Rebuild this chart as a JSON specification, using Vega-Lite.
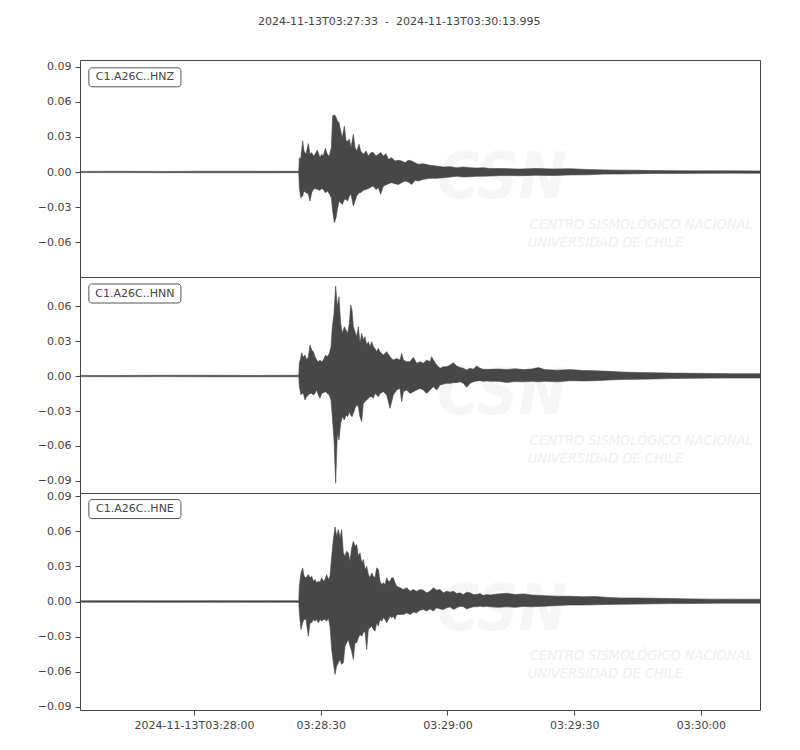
{
  "$schema": "https://vega.github.io/schema/vega-lite/v6.json",
  "background": "white",
  "bounds": "flush",
  "padding": {"left": 36, "top": 15, "right": 40, "bottom": 10},
  "title": {"text": "2024-11-13T03:27:33\u00a0\u00a0-\u00a0\u00a02024-11-13T03:30:13.995", "fontSize": 11, "font": "DejaVu Sans", "fontWeight": "normal", "color": "#444444", "anchor": "middle", "offset": 33},
  "config": {
    "font": "DejaVu Sans",
    "view": {"stroke": "#444444", "strokeWidth": 1},
    "axis": {"labelFont": "DejaVu Sans", "labelFontSize": 11, "labelColor": "#444444", "tickColor": "#444444", "tickSize": 5, "tickWidth": 1, "tickCount": 20, "labelPadding": 4, "labelOverlap": false, "labelBound": false, "grid": false, "domain": false, "title": null},
    "concat": {"spacing": 0}
  },
  "datasets": {
    "hnz": [
      {"t": 0, "hi": 0.0005, "lo": -0.0005}, {"t": 10, "hi": 0.0006, "lo": -0.0005}, {"t": 20, "hi": 0.0005, "lo": -0.0006}, {"t": 30, "hi": 0.0007, "lo": -0.0006}, {"t": 40, "hi": 0.0006, "lo": -0.0007}, {"t": 51.8, "hi": 0.0006, "lo": -0.0006},
      {"t": 51.93, "hi": 0.0123, "lo": -0.0134}, {"t": 52.25, "hi": 0.0109, "lo": -0.022}, {"t": 52.72, "hi": 0.0266, "lo": -0.0206}, {"t": 53.04, "hi": 0.018, "lo": -0.0163}, {"t": 53.51, "hi": 0.0151, "lo": -0.0177}, {"t": 54.06, "hi": 0.0243, "lo": -0.0186}, {"t": 54.46, "hi": 0.0151, "lo": -0.0249}, {"t": 54.85, "hi": 0.0166, "lo": -0.0177}, {"t": 55.25, "hi": 0.0137, "lo": -0.0149}, {"t": 55.64, "hi": 0.0151, "lo": -0.014}, {"t": 56.19, "hi": 0.0186, "lo": -0.0149}, {"t": 56.82, "hi": 0.0123, "lo": -0.0157}, {"t": 57.22, "hi": 0.0151, "lo": -0.014}, {"t": 57.61, "hi": 0.0137, "lo": -0.0149}, {"t": 58.09, "hi": 0.0203, "lo": -0.0177}, {"t": 58.56, "hi": 0.0151, "lo": -0.0163}, {"t": 59.03, "hi": 0.0137, "lo": -0.0186}, {"t": 59.51, "hi": 0.0209, "lo": -0.022},
      {"t": 59.82, "hi": 0.048, "lo": -0.0334}, {"t": 60.22, "hi": 0.0489, "lo": -0.0434}, {"t": 60.61, "hi": 0.0471, "lo": -0.0391}, {"t": 60.93, "hi": 0.0437, "lo": -0.032}, {"t": 61.32, "hi": 0.0423, "lo": -0.0249}, {"t": 61.72, "hi": 0.0351, "lo": -0.0263}, {"t": 62.11, "hi": 0.0294, "lo": -0.0277}, {"t": 62.59, "hi": 0.0394, "lo": -0.0234}, {"t": 62.98, "hi": 0.0266, "lo": -0.0234}, {"t": 63.37, "hi": 0.0266, "lo": -0.0249}, {"t": 63.77, "hi": 0.028, "lo": -0.0206}, {"t": 64.16, "hi": 0.0209, "lo": -0.0191}, {"t": 64.72, "hi": 0.0323, "lo": -0.0291}, {"t": 65.11, "hi": 0.0209, "lo": -0.0249}, {"t": 65.51, "hi": 0.018, "lo": -0.0206}, {"t": 66.06, "hi": 0.0237, "lo": -0.0177}, {"t": 66.45, "hi": 0.018, "lo": -0.0177}, {"t": 67.08, "hi": 0.0151, "lo": -0.0157}, {"t": 67.72, "hi": 0.018, "lo": -0.0149}, {"t": 68.27, "hi": 0.0137, "lo": -0.014}, {"t": 68.9, "hi": 0.0166, "lo": -0.0129}, {"t": 69.45, "hi": 0.0166, "lo": -0.012}, {"t": 70.08, "hi": 0.0137, "lo": -0.0149}, {"t": 70.64, "hi": 0.0151, "lo": -0.0134}, {"t": 71.19, "hi": 0.0166, "lo": -0.0191}, {"t": 71.82, "hi": 0.0137, "lo": -0.012}, {"t": 72.45, "hi": 0.0157, "lo": -0.0111},
      {"t": 73.0, "hi": 0.0109, "lo": -0.01}, {"t": 73.79, "hi": 0.0123, "lo": -0.0091}, {"t": 74.58, "hi": 0.0094, "lo": -0.01}, {"t": 75.37, "hi": 0.01, "lo": -0.0106}, {"t": 76.16, "hi": 0.0094, "lo": -0.0091}, {"t": 76.95, "hi": 0.008, "lo": -0.0077}, {"t": 77.74, "hi": 0.01, "lo": -0.0086}, {"t": 78.53, "hi": 0.0094, "lo": -0.0106}, {"t": 79.32, "hi": 0.008, "lo": -0.0071}, {"t": 80.11, "hi": 0.0066, "lo": -0.0077}, {"t": 81.29, "hi": 0.0071, "lo": -0.0063}, {"t": 82.87, "hi": 0.0057, "lo": -0.0054}, {"t": 84.45, "hi": 0.0051, "lo": -0.0054}, {"t": 86.03, "hi": 0.0043, "lo": -0.0049}, {"t": 87.61, "hi": 0.0046, "lo": -0.0043}, {"t": 89.18, "hi": 0.0037, "lo": -0.0037}, {"t": 90.76, "hi": 0.0043, "lo": -0.0043}, {"t": 92.34, "hi": 0.0037, "lo": -0.004}, {"t": 93.92, "hi": 0.0034, "lo": -0.0037}, {"t": 95.5, "hi": 0.0037, "lo": -0.0037}, {"t": 97.08, "hi": 0.0029, "lo": -0.0034},
      {"t": 100, "hi": 0.003, "lo": -0.003}, {"t": 104, "hi": 0.0025, "lo": -0.0032}, {"t": 108, "hi": 0.003, "lo": -0.0028}, {"t": 112, "hi": 0.0026, "lo": -0.003}, {"t": 116, "hi": 0.0028, "lo": -0.0025}, {"t": 120, "hi": 0.0022, "lo": -0.0024}, {"t": 124, "hi": 0.0018, "lo": -0.0018}, {"t": 128, "hi": 0.0016, "lo": -0.0017}, {"t": 132, "hi": 0.0015, "lo": -0.0015}, {"t": 136, "hi": 0.0012, "lo": -0.0013}, {"t": 142, "hi": 0.0011, "lo": -0.0012}, {"t": 148, "hi": 0.001, "lo": -0.0011}, {"t": 154, "hi": 0.001, "lo": -0.001}, {"t": 161, "hi": 0.0009, "lo": -0.001}
    ],
    "hnn": [
      {"t": 0, "hi": 0.0005, "lo": -0.0005}, {"t": 10, "hi": 0.0005, "lo": -0.0006}, {"t": 20, "hi": 0.0006, "lo": -0.0005}, {"t": 30, "hi": 0.0006, "lo": -0.0006}, {"t": 40, "hi": 0.0005, "lo": -0.0006}, {"t": 51.8, "hi": 0.0006, "lo": -0.0006},
      {"t": 51.93, "hi": 0.0109, "lo": -0.0091}, {"t": 52.32, "hi": 0.0166, "lo": -0.0163}, {"t": 52.48, "hi": 0.02, "lo": -0.0149}, {"t": 52.88, "hi": 0.016, "lo": -0.0149}, {"t": 53.27, "hi": 0.018, "lo": -0.0206}, {"t": 53.67, "hi": 0.0137, "lo": -0.0177}, {"t": 54.06, "hi": 0.0166, "lo": -0.0163}, {"t": 54.46, "hi": 0.0266, "lo": -0.0149}, {"t": 54.85, "hi": 0.0223, "lo": -0.0149}, {"t": 55.25, "hi": 0.0209, "lo": -0.0163}, {"t": 55.64, "hi": 0.0166, "lo": -0.0149}, {"t": 56.03, "hi": 0.0137, "lo": -0.012}, {"t": 56.43, "hi": 0.0123, "lo": -0.0163}, {"t": 56.82, "hi": 0.0137, "lo": -0.0191}, {"t": 57.22, "hi": 0.0123, "lo": -0.0149}, {"t": 57.61, "hi": 0.0137, "lo": -0.0143}, {"t": 58.17, "hi": 0.018, "lo": -0.0134}, {"t": 58.56, "hi": 0.0166, "lo": -0.0149}, {"t": 59.03, "hi": 0.0194, "lo": -0.0163}, {"t": 59.43, "hi": 0.0251, "lo": -0.0206},
      {"t": 59.74, "hi": 0.0423, "lo": -0.0349}, {"t": 60.14, "hi": 0.0537, "lo": -0.0549}, {"t": 60.53, "hi": 0.0771, "lo": -0.0917}, {"t": 60.93, "hi": 0.0594, "lo": -0.0491}, {"t": 61.32, "hi": 0.068, "lo": -0.0549}, {"t": 61.72, "hi": 0.0451, "lo": -0.0406}, {"t": 62.11, "hi": 0.0366, "lo": -0.0349}, {"t": 62.59, "hi": 0.0423, "lo": -0.0377}, {"t": 62.98, "hi": 0.0394, "lo": -0.0334}, {"t": 63.37, "hi": 0.0366, "lo": -0.0349}, {"t": 63.77, "hi": 0.0451, "lo": -0.0306}, {"t": 64.08, "hi": 0.0609, "lo": -0.0334}, {"t": 64.4, "hi": 0.0566, "lo": -0.0349}, {"t": 64.72, "hi": 0.0423, "lo": -0.032}, {"t": 65.11, "hi": 0.038, "lo": -0.0277}, {"t": 65.51, "hi": 0.0337, "lo": -0.0249}, {"t": 65.9, "hi": 0.0423, "lo": -0.0263}, {"t": 66.29, "hi": 0.028, "lo": -0.0349}, {"t": 66.69, "hi": 0.0366, "lo": -0.0391}, {"t": 67.08, "hi": 0.0309, "lo": -0.0234}, {"t": 67.48, "hi": 0.0337, "lo": -0.022}, {"t": 67.87, "hi": 0.0266, "lo": -0.0206}, {"t": 68.27, "hi": 0.0294, "lo": -0.0191}, {"t": 68.66, "hi": 0.0251, "lo": -0.0177}, {"t": 69.06, "hi": 0.0294, "lo": -0.0177}, {"t": 69.45, "hi": 0.0251, "lo": -0.0191}, {"t": 69.85, "hi": 0.0237, "lo": -0.0149}, {"t": 70.24, "hi": 0.0209, "lo": -0.0163}, {"t": 70.64, "hi": 0.0237, "lo": -0.0177}, {"t": 71.03, "hi": 0.0209, "lo": -0.0149}, {"t": 71.82, "hi": 0.018, "lo": -0.0134}, {"t": 72.61, "hi": 0.0209, "lo": -0.0163}, {"t": 73.4, "hi": 0.0166, "lo": -0.0277}, {"t": 74.19, "hi": 0.0137, "lo": -0.0163}, {"t": 74.98, "hi": 0.0151, "lo": -0.012}, {"t": 75.77, "hi": 0.0137, "lo": -0.0106}, {"t": 76.16, "hi": 0.0194, "lo": -0.022}, {"t": 76.56, "hi": 0.0137, "lo": -0.0134}, {"t": 77.34, "hi": 0.0123, "lo": -0.012}, {"t": 78.13, "hi": 0.0123, "lo": -0.0149}, {"t": 78.92, "hi": 0.016, "lo": -0.0134}, {"t": 79.71, "hi": 0.0109, "lo": -0.012}, {"t": 80.5, "hi": 0.0123, "lo": -0.0106}, {"t": 81.29, "hi": 0.0109, "lo": -0.012}, {"t": 82.08, "hi": 0.0137, "lo": -0.0149}, {"t": 82.87, "hi": 0.0123, "lo": -0.012}, {"t": 83.26, "hi": 0.0166, "lo": -0.0106}, {"t": 83.66, "hi": 0.0137, "lo": -0.0091}, {"t": 84.45, "hi": 0.0094, "lo": -0.012}, {"t": 85.24, "hi": 0.0066, "lo": -0.0077}, {"t": 86.03, "hi": 0.008, "lo": -0.0069}, {"t": 86.82, "hi": 0.008, "lo": -0.0063}, {"t": 87.61, "hi": 0.0094, "lo": -0.0063}, {"t": 88.39, "hi": 0.0114, "lo": -0.0057}, {"t": 89.18, "hi": 0.0086, "lo": -0.0057}, {"t": 89.97, "hi": 0.0074, "lo": -0.0049}, {"t": 90.76, "hi": 0.0066, "lo": -0.0063}, {"t": 91.55, "hi": 0.0051, "lo": -0.0097}, {"t": 92.34, "hi": 0.0066, "lo": -0.0063}, {"t": 93.13, "hi": 0.0057, "lo": -0.0049}, {"t": 93.92, "hi": 0.0086, "lo": -0.0043}, {"t": 94.71, "hi": 0.0066, "lo": -0.004}, {"t": 95.5, "hi": 0.0057, "lo": -0.0045}, {"t": 96.29, "hi": 0.0057, "lo": -0.0042}, {"t": 97.08, "hi": 0.0057, "lo": -0.0045},
      {"t": 99, "hi": 0.006, "lo": -0.0045}, {"t": 101, "hi": 0.0055, "lo": -0.0055}, {"t": 103, "hi": 0.0062, "lo": -0.0048}, {"t": 105, "hi": 0.0055, "lo": -0.005}, {"t": 107, "hi": 0.006, "lo": -0.0045}, {"t": 108.5, "hi": 0.0072, "lo": -0.005}, {"t": 110, "hi": 0.0055, "lo": -0.0045}, {"t": 113, "hi": 0.005, "lo": -0.005}, {"t": 116, "hi": 0.0055, "lo": -0.004}, {"t": 119, "hi": 0.0048, "lo": -0.0042}, {"t": 122, "hi": 0.0045, "lo": -0.004}, {"t": 125, "hi": 0.004, "lo": -0.0035}, {"t": 128, "hi": 0.0035, "lo": -0.003}, {"t": 132, "hi": 0.003, "lo": -0.0028}, {"t": 136, "hi": 0.0028, "lo": -0.0025}, {"t": 140, "hi": 0.0025, "lo": -0.0022}, {"t": 145, "hi": 0.0023, "lo": -0.002}, {"t": 150, "hi": 0.0022, "lo": -0.0018}, {"t": 155, "hi": 0.002, "lo": -0.0017}, {"t": 161, "hi": 0.002, "lo": -0.0017}
    ],
    "hne": [
      {"t": 0, "hi": 0.0006, "lo": -0.0006}, {"t": 10, "hi": 0.0007, "lo": -0.0006}, {"t": 20, "hi": 0.0006, "lo": -0.0007}, {"t": 30, "hi": 0.0007, "lo": -0.0007}, {"t": 40, "hi": 0.0006, "lo": -0.0006}, {"t": 51.8, "hi": 0.0007, "lo": -0.0007},
      {"t": 51.93, "hi": 0.0131, "lo": -0.0097}, {"t": 52.32, "hi": 0.0244, "lo": -0.0239}, {"t": 52.72, "hi": 0.0287, "lo": -0.0182}, {"t": 53.04, "hi": 0.0216, "lo": -0.0153}, {"t": 53.51, "hi": 0.0202, "lo": -0.0153}, {"t": 54.06, "hi": 0.023, "lo": -0.0296}, {"t": 54.46, "hi": 0.0202, "lo": -0.0182}, {"t": 54.85, "hi": 0.0216, "lo": -0.0182}, {"t": 55.25, "hi": 0.0173, "lo": -0.0153}, {"t": 55.64, "hi": 0.0188, "lo": -0.0168}, {"t": 56.03, "hi": 0.0159, "lo": -0.0153}, {"t": 56.43, "hi": 0.0173, "lo": -0.0182}, {"t": 56.82, "hi": 0.0165, "lo": -0.0153}, {"t": 57.22, "hi": 0.0202, "lo": -0.0168}, {"t": 57.61, "hi": 0.0173, "lo": -0.0153}, {"t": 58.01, "hi": 0.0188, "lo": -0.0153}, {"t": 58.4, "hi": 0.023, "lo": -0.0168}, {"t": 58.8, "hi": 0.0188, "lo": -0.0139}, {"t": 59.19, "hi": 0.0216, "lo": -0.021},
      {"t": 59.59, "hi": 0.0386, "lo": -0.0409}, {"t": 59.98, "hi": 0.0529, "lo": -0.0523}, {"t": 60.38, "hi": 0.0637, "lo": -0.0622}, {"t": 60.77, "hi": 0.0557, "lo": -0.0551}, {"t": 61.16, "hi": 0.0614, "lo": -0.0523}, {"t": 61.56, "hi": 0.0543, "lo": -0.0494}, {"t": 61.95, "hi": 0.0614, "lo": -0.0537}, {"t": 62.35, "hi": 0.0415, "lo": -0.0523}, {"t": 62.74, "hi": 0.0386, "lo": -0.0381}, {"t": 63.14, "hi": 0.0429, "lo": -0.0352}, {"t": 63.53, "hi": 0.0415, "lo": -0.0324}, {"t": 63.93, "hi": 0.0344, "lo": -0.0381}, {"t": 64.32, "hi": 0.0458, "lo": -0.0423}, {"t": 64.72, "hi": 0.0514, "lo": -0.0494}, {"t": 65.11, "hi": 0.0472, "lo": -0.0352}, {"t": 65.51, "hi": 0.0486, "lo": -0.0352}, {"t": 65.9, "hi": 0.0386, "lo": -0.031}, {"t": 66.29, "hi": 0.0415, "lo": -0.0281}, {"t": 66.69, "hi": 0.033, "lo": -0.0296}, {"t": 67.08, "hi": 0.0358, "lo": -0.0267}, {"t": 67.48, "hi": 0.0273, "lo": -0.0253}, {"t": 67.87, "hi": 0.0301, "lo": -0.0409}, {"t": 68.27, "hi": 0.023, "lo": -0.0239}, {"t": 68.66, "hi": 0.0202, "lo": -0.0224}, {"t": 69.06, "hi": 0.0244, "lo": -0.021}, {"t": 69.45, "hi": 0.0216, "lo": -0.0239}, {"t": 69.85, "hi": 0.0202, "lo": -0.0253}, {"t": 70.24, "hi": 0.0287, "lo": -0.0182}, {"t": 70.64, "hi": 0.0273, "lo": -0.021}, {"t": 71.03, "hi": 0.0173, "lo": -0.0153}, {"t": 71.43, "hi": 0.0145, "lo": -0.0168}, {"t": 71.82, "hi": 0.0159, "lo": -0.0139}, {"t": 72.22, "hi": 0.0145, "lo": -0.0153}, {"t": 72.61, "hi": 0.0202, "lo": -0.0182}, {"t": 73.0, "hi": 0.0173, "lo": -0.0153}, {"t": 73.4, "hi": 0.0173, "lo": -0.0125}, {"t": 73.79, "hi": 0.0202, "lo": -0.0139}, {"t": 74.19, "hi": 0.0202, "lo": -0.0125}, {"t": 74.58, "hi": 0.0159, "lo": -0.0153}, {"t": 74.98, "hi": 0.0131, "lo": -0.0111}, {"t": 75.77, "hi": 0.0117, "lo": -0.0111}, {"t": 76.56, "hi": 0.0102, "lo": -0.0111}, {"t": 77.34, "hi": 0.0117, "lo": -0.0097}, {"t": 78.13, "hi": 0.0088, "lo": -0.0111}, {"t": 78.92, "hi": 0.0102, "lo": -0.0091}, {"t": 79.71, "hi": 0.0088, "lo": -0.0097}, {"t": 80.5, "hi": 0.0102, "lo": -0.0074}, {"t": 81.29, "hi": 0.0097, "lo": -0.0068}, {"t": 82.08, "hi": 0.0074, "lo": -0.0082}, {"t": 82.87, "hi": 0.0088, "lo": -0.0063}, {"t": 83.66, "hi": 0.0117, "lo": -0.0082}, {"t": 84.45, "hi": 0.0097, "lo": -0.0054}, {"t": 85.24, "hi": 0.0102, "lo": -0.0063}, {"t": 86.03, "hi": 0.0074, "lo": -0.0068}, {"t": 86.82, "hi": 0.0088, "lo": -0.0054}, {"t": 87.61, "hi": 0.008, "lo": -0.0045}, {"t": 88.39, "hi": 0.0088, "lo": -0.0068}, {"t": 89.18, "hi": 0.0068, "lo": -0.0054}, {"t": 89.97, "hi": 0.0074, "lo": -0.004}, {"t": 90.76, "hi": 0.006, "lo": -0.0045}, {"t": 91.55, "hi": 0.008, "lo": -0.0063}, {"t": 92.34, "hi": 0.0074, "lo": -0.0054}, {"t": 93.13, "hi": 0.006, "lo": -0.0045}, {"t": 93.92, "hi": 0.006, "lo": -0.0045}, {"t": 94.71, "hi": 0.0068, "lo": -0.004}, {"t": 95.5, "hi": 0.0051, "lo": -0.0045}, {"t": 96.29, "hi": 0.006, "lo": -0.004}, {"t": 97.08, "hi": 0.0055, "lo": -0.0045},
      {"t": 99, "hi": 0.0065, "lo": -0.005}, {"t": 101, "hi": 0.007, "lo": -0.0045}, {"t": 103, "hi": 0.006, "lo": -0.005}, {"t": 105, "hi": 0.0065, "lo": -0.0042}, {"t": 107, "hi": 0.0055, "lo": -0.0045}, {"t": 110, "hi": 0.005, "lo": -0.004}, {"t": 113, "hi": 0.0045, "lo": -0.0035}, {"t": 116, "hi": 0.0045, "lo": -0.003}, {"t": 119, "hi": 0.004, "lo": -0.003}, {"t": 122, "hi": 0.0042, "lo": -0.0028}, {"t": 125, "hi": 0.0035, "lo": -0.0025}, {"t": 128, "hi": 0.003, "lo": -0.0024}, {"t": 132, "hi": 0.003, "lo": -0.0022}, {"t": 136, "hi": 0.0028, "lo": -0.002}, {"t": 140, "hi": 0.0025, "lo": -0.0018}, {"t": 145, "hi": 0.0022, "lo": -0.0016}, {"t": 150, "hi": 0.002, "lo": -0.0015}, {"t": 155, "hi": 0.002, "lo": -0.0014}, {"t": 161, "hi": 0.0019, "lo": -0.0014}
    ]
  },
  "vconcat": [
    {
      "width": 680, "height": 217,
      "layer": [
        {"data": {"values": [{"w": "CSN"}]}, "mark": {"type": "text", "fontSize": 64, "fontStyle": "italic", "fontWeight": "bold", "font": "Liberation Sans Narrow, DejaVu Sans Condensed, DejaVu Sans", "color": "#f6f6f6", "align": "center", "baseline": "middle"},
         "encoding": {"x": {"datum": 99.9, "type": "quantitative", "scale": {"domain": [0, 160.995], "nice": false, "zero": false}}, "y": {"datum": -0.006, "type": "quantitative", "scale": {"domain": [-0.0898, 0.0958], "nice": false, "zero": false}}, "text": {"field": "w"}}},
        {"data": {"values": [{"w": "CENTRO SISMOLÓGICO NACIONAL"}]}, "mark": {"type": "text", "fontSize": 14.5, "fontStyle": "italic", "font": "Liberation Sans Narrow, DejaVu Sans Condensed, DejaVu Sans", "color": "#f0f0f0", "align": "left", "baseline": "middle"},
         "encoding": {"x": {"datum": 106.5, "type": "quantitative", "scale": {"domain": [0, 160.995], "nice": false, "zero": false}}, "y": {"datum": -0.0450, "type": "quantitative", "scale": {"domain": [-0.0898, 0.0958], "nice": false, "zero": false}}, "text": {"field": "w"}}},
        {"data": {"values": [{"w": "UNIVERSIDAD DE CHILE"}]}, "mark": {"type": "text", "fontSize": 14.5, "fontStyle": "italic", "font": "Liberation Sans Narrow, DejaVu Sans Condensed, DejaVu Sans", "color": "#f0f0f0", "align": "left", "baseline": "middle"},
         "encoding": {"x": {"datum": 106.0, "type": "quantitative", "scale": {"domain": [0, 160.995], "nice": false, "zero": false}}, "y": {"datum": -0.0609, "type": "quantitative", "scale": {"domain": [-0.0898, 0.0958], "nice": false, "zero": false}}, "text": {"field": "w"}}},
        {"data": {"name": "hnz"}, "mark": {"type": "area", "color": "#474747", "stroke": "#474747", "strokeWidth": 0.6},
         "encoding": {
           "x": {"field": "t", "type": "quantitative", "scale": {"domain": [0, 160.995], "nice": false, "zero": false}, "axis": null},
           "y": {"field": "hi", "type": "quantitative", "scale": {"domain": [-0.0898, 0.0958], "nice": false, "zero": false}, "axis": {"values": [-0.06, -0.03, 0, 0.03, 0.06, 0.09], "format": ".2f", "tickCount": 20}},
           "y2": {"field": "lo"}}},
        {"data": {"values": [{"label": "C1.A26C..HNZ"}]}, "mark": {"type": "rect", "fill": "white", "stroke": "#555555", "strokeWidth": 1, "cornerRadius": 3},
         "encoding": {"x": {"datum": 2.1, "type": "quantitative", "scale": {"domain": [0, 160.995], "nice": false, "zero": false}}, "x2": {"datum": 23.9}, "y": {"datum": 0.0891, "type": "quantitative", "scale": {"domain": [-0.0898, 0.0958], "nice": false, "zero": false}}, "y2": {"datum": 0.0729}}},
        {"data": {"values": [{"label": "C1.A26C..HNZ"}]}, "mark": {"type": "text", "fontSize": 11, "color": "#444444", "align": "center", "baseline": "middle"},
         "encoding": {"x": {"datum": 13.0, "type": "quantitative", "scale": {"domain": [0, 160.995], "nice": false, "zero": false}}, "y": {"datum": 0.081, "type": "quantitative", "scale": {"domain": [-0.0898, 0.0958], "nice": false, "zero": false}}, "text": {"field": "label"}}}
      ]
    },
    {
      "width": 680, "height": 216,
      "layer": [
        {"data": {"values": [{"w": "CSN"}]}, "mark": {"type": "text", "fontSize": 64, "fontStyle": "italic", "fontWeight": "bold", "font": "Liberation Sans Narrow, DejaVu Sans Condensed, DejaVu Sans", "color": "#f6f6f6", "align": "center", "baseline": "middle"},
         "encoding": {"x": {"datum": 99.9, "type": "quantitative", "scale": {"domain": [0, 160.995], "nice": false, "zero": false}}, "y": {"datum": -0.0163, "type": "quantitative", "scale": {"domain": [-0.1003, 0.0849], "nice": false, "zero": false}}, "text": {"field": "w"}}},
        {"data": {"values": [{"w": "CENTRO SISMOLÓGICO NACIONAL"}]}, "mark": {"type": "text", "fontSize": 14.5, "fontStyle": "italic", "font": "Liberation Sans Narrow, DejaVu Sans Condensed, DejaVu Sans", "color": "#f0f0f0", "align": "left", "baseline": "middle"},
         "encoding": {"x": {"datum": 106.5, "type": "quantitative", "scale": {"domain": [0, 160.995], "nice": false, "zero": false}}, "y": {"datum": -0.0553, "type": "quantitative", "scale": {"domain": [-0.1003, 0.0849], "nice": false, "zero": false}}, "text": {"field": "w"}}},
        {"data": {"values": [{"w": "UNIVERSIDAD DE CHILE"}]}, "mark": {"type": "text", "fontSize": 14.5, "fontStyle": "italic", "font": "Liberation Sans Narrow, DejaVu Sans Condensed, DejaVu Sans", "color": "#f0f0f0", "align": "left", "baseline": "middle"},
         "encoding": {"x": {"datum": 106.0, "type": "quantitative", "scale": {"domain": [0, 160.995], "nice": false, "zero": false}}, "y": {"datum": -0.0711, "type": "quantitative", "scale": {"domain": [-0.1003, 0.0849], "nice": false, "zero": false}}, "text": {"field": "w"}}},
        {"data": {"name": "hnn"}, "mark": {"type": "area", "color": "#474747", "stroke": "#474747", "strokeWidth": 0.6},
         "encoding": {
           "x": {"field": "t", "type": "quantitative", "scale": {"domain": [0, 160.995], "nice": false, "zero": false}, "axis": null},
           "y": {"field": "hi", "type": "quantitative", "scale": {"domain": [-0.1003, 0.0849], "nice": false, "zero": false}, "axis": {"values": [-0.09, -0.06, -0.03, 0, 0.03, 0.06], "format": ".2f", "tickCount": 20}},
           "y2": {"field": "lo"}}},
        {"data": {"values": [{"label": "C1.A26C..HNN"}]}, "mark": {"type": "rect", "fill": "white", "stroke": "#555555", "strokeWidth": 1, "cornerRadius": 3},
         "encoding": {"x": {"datum": 2.1, "type": "quantitative", "scale": {"domain": [0, 160.995], "nice": false, "zero": false}}, "x2": {"datum": 23.9}, "y": {"datum": 0.0789, "type": "quantitative", "scale": {"domain": [-0.1003, 0.0849], "nice": false, "zero": false}}, "y2": {"datum": 0.0626}}},
        {"data": {"values": [{"label": "C1.A26C..HNN"}]}, "mark": {"type": "text", "fontSize": 11, "color": "#444444", "align": "center", "baseline": "middle"},
         "encoding": {"x": {"datum": 13.0, "type": "quantitative", "scale": {"domain": [0, 160.995], "nice": false, "zero": false}}, "y": {"datum": 0.0707, "type": "quantitative", "scale": {"domain": [-0.1003, 0.0849], "nice": false, "zero": false}}, "text": {"field": "label"}}}
      ]
    },
    {
      "width": 680, "height": 217,
      "layer": [
        {"data": {"values": [{"w": "CSN"}]}, "mark": {"type": "text", "fontSize": 64, "fontStyle": "italic", "fontWeight": "bold", "font": "Liberation Sans Narrow, DejaVu Sans Condensed, DejaVu Sans", "color": "#f6f6f6", "align": "center", "baseline": "middle"},
         "encoding": {"x": {"datum": 99.9, "type": "quantitative", "scale": {"domain": [0, 160.995], "nice": false, "zero": false}}, "y": {"datum": -0.0077, "type": "quantitative", "scale": {"domain": [-0.0926, 0.0926], "nice": false, "zero": false}}, "text": {"field": "w"}}},
        {"data": {"values": [{"w": "CENTRO SISMOLÓGICO NACIONAL"}]}, "mark": {"type": "text", "fontSize": 14.5, "fontStyle": "italic", "font": "Liberation Sans Narrow, DejaVu Sans Condensed, DejaVu Sans", "color": "#f0f0f0", "align": "left", "baseline": "middle"},
         "encoding": {"x": {"datum": 106.5, "type": "quantitative", "scale": {"domain": [0, 160.995], "nice": false, "zero": false}}, "y": {"datum": -0.0465, "type": "quantitative", "scale": {"domain": [-0.0926, 0.0926], "nice": false, "zero": false}}, "text": {"field": "w"}}},
        {"data": {"values": [{"w": "UNIVERSIDAD DE CHILE"}]}, "mark": {"type": "text", "fontSize": 14.5, "fontStyle": "italic", "font": "Liberation Sans Narrow, DejaVu Sans Condensed, DejaVu Sans", "color": "#f0f0f0", "align": "left", "baseline": "middle"},
         "encoding": {"x": {"datum": 106.0, "type": "quantitative", "scale": {"domain": [0, 160.995], "nice": false, "zero": false}}, "y": {"datum": -0.0622, "type": "quantitative", "scale": {"domain": [-0.0926, 0.0926], "nice": false, "zero": false}}, "text": {"field": "w"}}},
        {"data": {"name": "hne"}, "mark": {"type": "area", "color": "#474747", "stroke": "#474747", "strokeWidth": 0.6},
         "encoding": {
           "x": {"field": "t", "type": "quantitative", "scale": {"domain": [0, 160.995], "nice": false, "zero": false},
                 "axis": {"values": [27, 57, 87, 117, 147], "tickCount": 20, "labelPadding": 4, "labelExpr": "datum.value == 27 ? '2024-11-13T03:28:00' : datum.value == 57 ? '03:28:30' : datum.value == 87 ? '03:29:00' : datum.value == 117 ? '03:29:30' : '03:30:00'"}},
           "y": {"field": "hi", "type": "quantitative", "scale": {"domain": [-0.0926, 0.0926], "nice": false, "zero": false}, "axis": {"values": [-0.09, -0.06, -0.03, 0, 0.03, 0.06, 0.09], "format": ".2f", "tickCount": 20}},
           "y2": {"field": "lo"}}},
        {"data": {"values": [{"label": "C1.A26C..HNE"}]}, "mark": {"type": "rect", "fill": "white", "stroke": "#555555", "strokeWidth": 1, "cornerRadius": 3},
         "encoding": {"x": {"datum": 2.1, "type": "quantitative", "scale": {"domain": [0, 160.995], "nice": false, "zero": false}}, "x2": {"datum": 23.9}, "y": {"datum": 0.087, "type": "quantitative", "scale": {"domain": [-0.0926, 0.0926], "nice": false, "zero": false}}, "y2": {"datum": 0.0708}}},
        {"data": {"values": [{"label": "C1.A26C..HNE"}]}, "mark": {"type": "text", "fontSize": 11, "color": "#444444", "align": "center", "baseline": "middle"},
         "encoding": {"x": {"datum": 13.0, "type": "quantitative", "scale": {"domain": [0, 160.995], "nice": false, "zero": false}}, "y": {"datum": 0.0789, "type": "quantitative", "scale": {"domain": [-0.0926, 0.0926], "nice": false, "zero": false}}, "text": {"field": "label"}}}
      ]
    }
  ]
}
